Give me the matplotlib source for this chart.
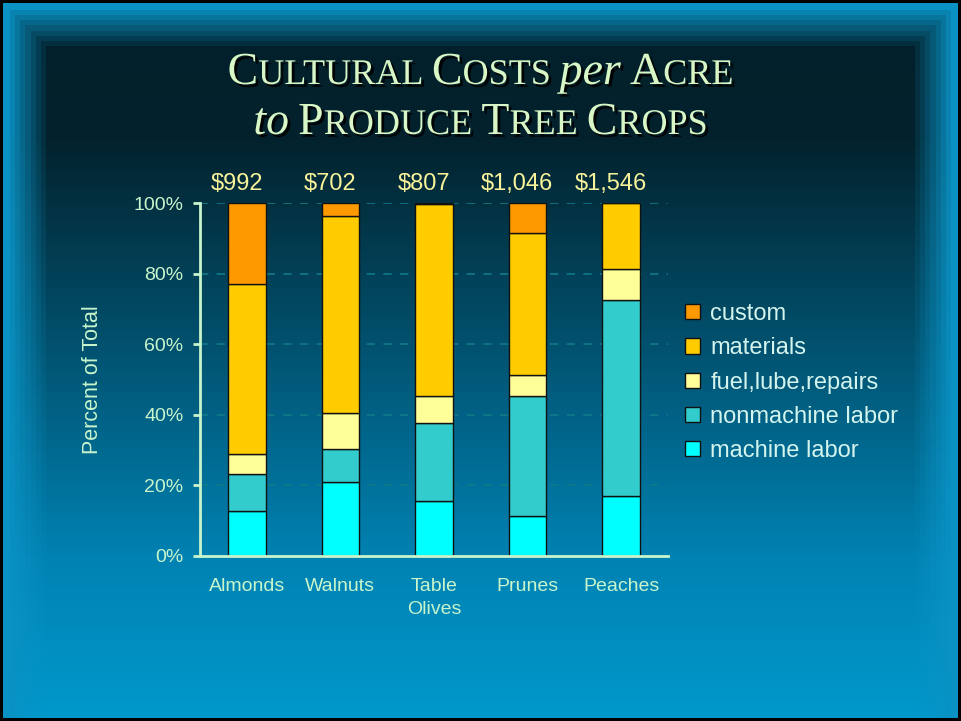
import matplotlib
matplotlib.use("Agg")
import matplotlib.pyplot as plt
import matplotlib.patheffects as pe
from matplotlib.patches import Patch
import numpy as np

# data (percent of total cost per acre)
crops = ["Almonds", "Walnuts", "Table\nOlives", "Prunes", "Peaches"]
totals = ["$992", "$702", "$807", "$1,046", "$1,546"]
machine_labor = [12.7, 21.1, 15.5, 11.2, 16.9]
nonmachine_labor = [10.4, 9.3, 22.3, 34.2, 55.7]
fuel_lube_repairs = [5.7, 10.2, 7.6, 5.8, 8.8]
materials = [48.3, 55.8, 54.2, 40.2, 18.6]
custom = [22.9, 3.6, 0.4, 8.6, 0.0]

series = [
    ("machine labor", machine_labor, "#00ffff"),
    ("nonmachine labor", nonmachine_labor, "#33cccc"),
    ("fuel,lube,repairs", fuel_lube_repairs, "#ffff99"),
    ("materials", materials, "#ffcc00"),
    ("custom", custom, "#ff9900"),
]

W, H = 961, 721
fig = plt.figure(figsize=(W / 100, H / 100), dpi=100)

# background: vertical gradient plus a glowing frame
def hex2rgb(h):
    return np.array([int(h[i:i + 2], 16) / 255 for i in (1, 3, 5)])

ys = np.arange(H)
stops_y = [0, 140, 556, 721]
stops_c = [hex2rgb(c) for c in ["#02202a", "#03222d", "#0082b2", "#0099cc"]]
base = np.stack([np.interp(ys, stops_y, [c[k] for c in stops_c]) for k in range(3)], axis=1)
img = np.repeat(base[:, None, :], W, axis=1)

xx, yy = np.meshgrid(np.arange(W), ys)
d = np.minimum(np.minimum(xx, W - 1 - xx), yy)
t = np.clip((d - 4) / 42, 0, 1)
t = np.floor(t * 8) / 8
edge = hex2rgb("#0a92c4")
img = edge[None, None, :] * (1 - t[..., None]) + img * t[..., None]
img[:3, :] = 0
img[-3:, :] = 0
img[:, :3] = 0
img[:, -3:] = 0

bg = fig.add_axes([0, 0, 1, 1], zorder=-1)
bg.imshow(img, aspect="auto", interpolation="nearest")
bg.axis("off")

# chart
ax = fig.add_axes([200 / W, 1 - 556 / H, 468 / W, 353 / H])
ax.patch.set_alpha(0)
x = np.arange(len(crops))
bottom = np.zeros(len(crops))
handles = []
for name, vals, col in series:
    ax.bar(x, vals, 0.4, bottom=bottom, color=col, edgecolor="#111111",
           linewidth=1, zorder=3)
    bottom += np.array(vals)
    handles.append(Patch(facecolor=col, edgecolor="#111111", label=name))

ax.set_xlim(-0.5, 4.5)
ax.set_ylim(0, 100)
ax.set_yticks([0, 20, 40, 60, 80, 100])
ax.set_yticklabels(["0%", "20%", "40%", "60%", "80%", "100%"])
ax.set_xticks(x)
ax.set_xticklabels(crops, linespacing=1.45)

axis_col = "#c8f5cc"
for s in ["top", "right"]:
    ax.spines[s].set_visible(False)
for s in ["left", "bottom"]:
    ax.spines[s].set_color(axis_col)
    ax.spines[s].set_linewidth(2)
    ax.spines[s].set_zorder(4)
ax.tick_params(axis="y", colors=axis_col, labelcolor=axis_col, length=5,
               width=2, pad=7, labelsize=14)
ax.tick_params(axis="x", length=0, pad=16, labelcolor=axis_col, labelsize=14)
for lab in ax.get_yticklabels() + ax.get_xticklabels():
    lab.set_fontfamily("Liberation Sans")

ax.yaxis.grid(True, color="#117a88", linestyle=(0, (5, 5)), linewidth=1.2)
ax.set_axisbelow(True)

ax.set_ylabel("Percent of Total", color=axis_col, fontsize=15.5,
              family="Liberation Sans", labelpad=22)

for xi, lab in zip(x, totals):
    ax.text(xi - 0.11, 102.3, lab, ha="center", va="bottom", fontsize=17,
            color="#f8f29a", family="Liberation Sans")

leg = fig.legend(handles=handles[::-1], loc="upper left",
                 bbox_to_anchor=(685 / W, 1 - 303 / H), frameon=False,
                 borderpad=0, borderaxespad=0, handlelength=0.62,
                 handleheight=0.62, handletextpad=0.45, labelspacing=0.52,
                 prop={"family": "Liberation Sans", "size": 17})
for txt in leg.get_texts():
    txt.set_color("#d4f4ee")

# title with small caps pieces
renderer = fig.canvas.get_renderer()
title_col = "#d9f7c6"
shadow = [pe.withSimplePatchShadow(offset=(2, -2), shadow_rgbFace="black", alpha=0.9)]

def draw_line(pieces, y_base):
    arts = []
    widths = []
    for p in pieces:
        if p is None:
            arts.append(None)
            widths.append(9)
            continue
        s, size, style = p
        tx = fig.text(0, y_base, s, fontsize=size, style=style,
                      family="Liberation Serif", color=title_col,
                      va="baseline", ha="left", path_effects=shadow)
        bb = tx.get_window_extent(renderer)
        arts.append(tx)
        widths.append(bb.width)
    total = sum(widths)
    cur = (W - total) / 2
    for a, w in zip(arts, widths):
        if a is not None:
            a.set_x(cur / W)
        cur += w

big, small = 33, 26
line1 = [("C", big, "normal"), ("ULTURAL", small, "normal"), None,
         ("C", big, "normal"), ("OSTS", small, "normal"), None,
         ("per", big, "italic"), None,
         ("A", big, "normal"), ("CRE", small, "normal")]
line2 = [("to", big, "italic"), None,
         ("P", big, "normal"), ("RODUCE", small, "normal"), None,
         ("T", big, "normal"), ("REE", small, "normal"), None,
         ("C", big, "normal"), ("ROPS", small, "normal")]
draw_line(line1, 1 - 84 / H)
draw_line(line2, 1 - 134 / H)

fig.savefig("out.png", dpi=100)
